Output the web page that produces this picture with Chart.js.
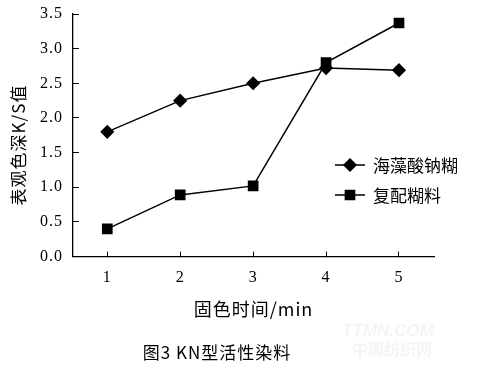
<!DOCTYPE html>
<html>
<head>
<meta charset="utf-8">
<script src="https://cdn.jsdelivr.net/npm/chart.js@4/dist/chart.umd.min.js"></script>
<style>
  html, body { margin: 0; padding: 0; background: #fff; }
  #wrap { width: 481px; height: 368px; }
</style>
</head>
<body>
<div id="wrap"><canvas id="chart" width="481" height="368"></canvas></div>
<script>
// data
const times = [1, 2, 3, 4, 5];
const alginate = [1.80, 2.25, 2.50, 2.72, 2.69];
const compound = [0.40, 0.89, 1.02, 2.80, 3.37];
const seriesNames = ["海藻酸钠糊", "复配糊料"];
const xTicks = [1, 2, 3, 4, 5];
const yTicks = [0, 0.5, 1.0, 1.5, 2.0, 2.5, 3.0, 3.5];
const yTitle = "表观色深K/S值";

const SERIF = "'Liberation Serif', 'DejaVu Serif', serif";
const CJK = "'Noto Sans CJK SC', 'Noto Sans', sans-serif";

function drawMarker(ctx, style, r, x, y) {
  if (Chart.helpers && Chart.helpers.drawPoint) {
    Chart.helpers.drawPoint(ctx, { pointStyle: style, radius: r, borderWidth: 1 }, x, y);
    return;
  }
  const s = r / Math.SQRT2;
  ctx.beginPath();
  if (style === "rectRot") {
    ctx.moveTo(x, y - r); ctx.lineTo(x + r, y); ctx.lineTo(x, y + r); ctx.lineTo(x - r, y);
  } else {
    ctx.rect(x - s, y - s, 2 * s, 2 * s);
  }
  ctx.closePath();
  ctx.fill();
}

// the scanned figure has loosely spaced type
const spacing = {
  id: "spacing",
  beforeDraw(chart) { chart.ctx.letterSpacing = "1px"; },
  afterDraw(chart) { chart.ctx.letterSpacing = "0px"; }
};

// legend inside the plot, y title sits a bit below centre in the original
const extras = {
  id: "extras",
  afterDraw(chart) {
    const ctx = chart.ctx;
    ctx.save();
    ctx.letterSpacing = "0px";
    chart.data.datasets.forEach((ds, i) => {
      const y = 165 + i * 30;
      ctx.strokeStyle = "#000";
      ctx.fillStyle = "#000";
      ctx.lineWidth = 1.5;
      ctx.beginPath();
      ctx.moveTo(335, y);
      ctx.lineTo(365, y);
      ctx.stroke();
      drawMarker(ctx, ds.pointStyle, ds.pointRadius, 350, y);
      ctx.font = "17px " + CJK;
      ctx.textAlign = "left";
      ctx.textBaseline = "middle";
      ctx.fillStyle = "#000";
      ctx.fillText(ds.label, 373, y + 1);
    });

    ctx.save();
    ctx.translate(19, 145);
    ctx.rotate(-Math.PI / 2);
    ctx.letterSpacing = "1px";
    ctx.textAlign = "center";
    ctx.textBaseline = "middle";
    ctx.font = "17px " + CJK;
    ctx.fillText(yTitle, 0, 0);
    ctx.restore();

    // faint site watermark
    ctx.fillStyle = "rgba(205, 215, 225, 0.25)";
    ctx.textAlign = "left";
    ctx.font = "italic bold 17px 'Liberation Sans', sans-serif";
    ctx.fillText("TTMN.COM", 342, 331);
    ctx.font = "bold 16px " + CJK;
    ctx.fillText("中国纺织网", 352, 349);
    ctx.restore();
  }
};

const ctx = document.getElementById("chart").getContext("2d");
const chart = new Chart(ctx, {
  type: "line",
  data: {
    datasets: [
      {
        label: seriesNames[0],
        data: times.map((t, i) => ({ x: t, y: alginate[i] })),
        borderColor: "#000", backgroundColor: "#000", borderWidth: 1.5,
        pointStyle: "rectRot", pointRadius: 6, pointHoverRadius: 6, tension: 0
      },
      {
        label: seriesNames[1],
        data: times.map((t, i) => ({ x: t, y: compound[i] })),
        borderColor: "#000", backgroundColor: "#000", borderWidth: 1.5,
        pointStyle: "rect", pointRadius: 6.5, pointHoverRadius: 6.5, tension: 0
      }
    ]
  },
  options: {
    responsive: false,
    animation: false,
    devicePixelRatio: 1,
    layout: { padding: { top: 14, right: 47, left: 0, bottom: 0 } },
    plugins: {
      legend: { display: false },
      tooltip: { enabled: false },
      title: {
        display: true,
        position: "bottom",
        text: "图3 KN型活性染料",
        color: "#000",
        font: { family: CJK, size: 17, weight: "normal" },
        padding: { top: 9, bottom: 5 }
      }
    },
    scales: {
      x: {
        type: "linear",
        min: 0.53,
        max: 5.48,
        afterBuildTicks: s => { s.ticks = xTicks.map(v => ({ value: v })); },
        afterFit: s => { s.height = 77; s.paddingLeft = 0; s.paddingRight = 0; },
        grid: { drawOnChartArea: false, tickLength: -5, color: "#000", lineWidth: 1 },
        border: { color: "#000", width: 1.3 },
        ticks: { color: "#000", font: { family: SERIF, size: 16 }, padding: 17, maxRotation: 0 },
        title: {
          display: true, text: "固色时间/min", color: "#000",
          font: { family: CJK, size: 18 }, padding: { top: 0, bottom: 14 }
        }
      },
      y: {
        min: 0,
        max: 3.5,
        afterBuildTicks: s => { s.ticks = yTicks.map(v => ({ value: v })); },
        afterFit: s => { s.width = 73; s.paddingTop = 8; s.paddingBottom = 8; },
        grid: { drawOnChartArea: false, tickLength: -6, color: "#000", lineWidth: 1 },
        border: { color: "#000", width: 1.3 },
        ticks: { color: "#000", font: { family: SERIF, size: 16 }, padding: 16, callback: v => v.toFixed(1) },
        title: { display: false }
      }
    }
  },
  plugins: [spacing, extras]
});
</script>
</body>
</html>
